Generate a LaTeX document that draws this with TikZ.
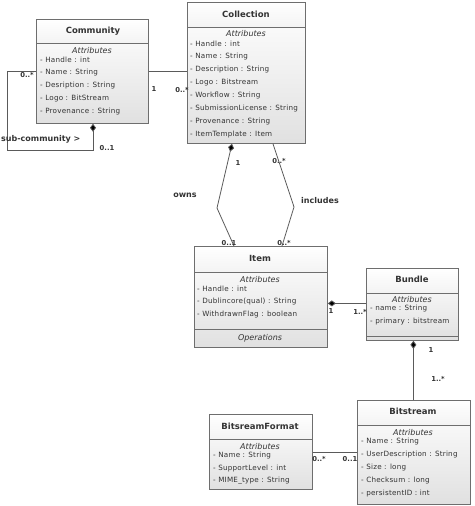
\documentclass[tikz,border=0pt]{standalone}
\usepackage{fontspec}
\setmainfont{DejaVu Sans}
\newfontfamily\attrfont[LetterSpace=3]{DejaVu Sans}
\usetikzlibrary{arrows.meta,calc}
\definecolor{txt}{HTML}{333333}
\definecolor{boxline}{HTML}{6E6E6E}
\definecolor{lnk}{HTML}{5A5A5A}
\begin{document}
\begin{tikzpicture}[x=1pt,y=-1pt,
  cls/.style={draw=boxline, line width=0.8pt, top color=white, bottom color=gray!24, inner sep=0pt, anchor=north west},
  hdr/.style={draw=boxline, line width=0.8pt, top color=white, bottom color=gray!9},
  sep/.style={draw=boxline, line width=0.8pt},
  ttl/.style={font=\fontsize{8.5}{9}\selectfont\bfseries, text=txt, inner sep=0pt},
  atth/.style={font=\fontsize{8}{9}\selectfont\itshape, text=txt, inner sep=0pt},
  attr/.style={font=\attrfont\fontsize{7.2}{8}\selectfont, text=txt, anchor=west, inner sep=0pt},
  mult/.style={font=\fontsize{6.8}{8}\selectfont\bfseries, text=txt, inner sep=0pt},
  rlab/.style={font=\fontsize{8}{9}\selectfont\bfseries, text=txt, inner sep=0pt},
  assoc/.style={draw=lnk, line width=0.8pt},
  dia/.style={{Diamond[length=8pt,width=6pt,fill=black]}-},
]
\useasboundingbox (0,0) rectangle (474,506);

% ---------- Community ----------
\node[cls, minimum width=112pt, minimum height=104pt] (comm) at (36,19) {};
\filldraw[hdr] (comm.north west) rectangle ($(comm.north east)+(0,24)$);
\node[ttl] (commT) at (93,31) {Community};
\node[atth] (commA) at (92,51) {Attributes};
\node[attr] (comm1) at (40,60) {- Handle : int};
\node[attr] (comm2) at (40,73) {- Name : String};
\node[attr] (comm3) at (40,86) {- Desription : String};
\node[attr] (comm4) at (40,99) {- Logo : BitStream};
\node[attr] (comm5) at (40,112) {- Provenance : String};

% ---------- Collection ----------
\node[cls, minimum width=118pt, minimum height=141pt] (coll) at (187,2) {};
\filldraw[hdr] (coll.north west) rectangle ($(coll.north east)+(0,25)$);
\node[ttl] (collT) at (246,14) {Collection};
\node[atth] (collA) at (246,34) {Attributes};
\node[attr] (coll1) at (190,44) {- Handle : int};
\node[attr] (coll2) at (190,57) {- Name : String};
\node[attr] (coll3) at (190,70) {- Description : String};
\node[attr] (coll4) at (190,83) {- Logo : Bitstream};
\node[attr] (coll5) at (190,96) {- Workflow : String};
\node[attr] (coll6) at (190,109) {- SubmissionLicense : String};
\node[attr] (coll7) at (190,122) {- Provenance : String};
\node[attr] (coll8) at (190,135) {- ItemTemplate : Item};

% ---------- Item ----------
\node[cls, minimum width=133pt, minimum height=101pt] (item) at (194,246) {};
\filldraw[hdr] (item.north west) rectangle ($(item.north east)+(0,26)$);
\draw[sep] ($(item.north west)+(0,83)$) -- ($(item.north east)+(0,83)$);
\node[ttl] (itemT) at (260,258) {Item};
\node[atth] (itemA) at (260,280) {Attributes};
\node[attr] (item1) at (197,289) {- Handle : int};
\node[attr] (item2) at (197,302) {- Dublincore(qual) : String};
\node[attr] (item3) at (197,315) {- WithdrawnFlag : boolean};
\node[atth] (itemO) at (260,338) {Operations};

% ---------- Bundle ----------
\node[cls, minimum width=92pt, minimum height=72pt] (bund) at (366,268) {};
\filldraw[hdr] (bund.north west) rectangle ($(bund.north east)+(0,25)$);
\draw[sep] ($(bund.south west)+(0,-4)$) -- ($(bund.south east)+(0,-4)$);
\node[ttl] (bundT) at (412,279) {Bundle};
\node[atth] (bundA) at (412,300) {Attributes};
\node[attr] (bund1) at (370,309) {- name : String};
\node[attr] (bund2) at (370,322) {- primary : bitstream};

% ---------- Bitstream ----------
\node[cls, minimum width=113pt, minimum height=104pt] (bits) at (357,400) {};
\filldraw[hdr] (bits.north west) rectangle ($(bits.north east)+(0,25)$);
\node[ttl] (bitsT) at (413,411) {Bitstream};
\node[atth] (bitsA) at (413,433) {Attributes};
\node[attr] (bits1) at (361,442) {- Name : String};
\node[attr] (bits2) at (361,455) {- UserDescription : String};
\node[attr] (bits3) at (361,468) {- Size : long};
\node[attr] (bits4) at (361,481) {- Checksum : long};
\node[attr] (bits5) at (361,494) {- persistentID : int};

% ---------- BitsreamFormat ----------
\node[cls, minimum width=103pt, minimum height=75pt] (bfmt) at (209,414) {};
\filldraw[hdr] (bfmt.north west) rectangle ($(bfmt.north east)+(0,25)$);
\node[ttl] (bfmtT) at (260,426) {BitsreamFormat};
\node[atth] (bfmtA) at (260,447) {Attributes};
\node[attr] (bfmt1) at (213,456) {- Name : String};
\node[attr] (bfmt2) at (213,469) {- SupportLevel : int};
\node[attr] (bfmt3) at (213,481) {- MIME\_type : String};

% ---------- Connectors ----------
% Community -- Collection
\draw[assoc] (comm.east) -- (comm.east -| coll.west);
\node[mult] (m1) at (154,89) {1};
\node[mult] (m2) at (182,90) {0..*};

% sub-community self association
\coordinate (subL) at (7,150);
\draw[assoc, {Diamond[length=8pt,width=6pt,fill=black]}-] ([xshift=57pt]comm.south west) |- (subL) |- (comm.west);
\node[mult] (m3) at (27,75) {0..*};
\node[rlab, anchor=west] (subc) at (1,139) {sub-community >};
\node[mult] (m4) at (107,148) {0..1};

% owns
\coordinate (ownsB) at (217,208);
\draw[assoc, dia] ([xshift=45pt]coll.south west) -- (ownsB) -- ([xshift=40pt]item.north west);
\node[mult] (m5) at (238,163) {1};
\node[rlab] (owns) at (185,195) {owns};
\node[mult] (m6) at (229,243) {0..1};

% includes
\coordinate (inclB) at (294,207);
\draw[assoc] ([xshift=86pt]coll.south west) -- (inclB) -- ([xshift=88pt]item.north west);
\node[mult] (m7) at (279,161) {0..*};
\node[rlab] (incl) at (320,201) {includes};
\node[mult] (m8) at (284,243) {0..*};

% Item -- Bundle
\draw[assoc, dia] ([yshift=-6.5pt]item.east) -- ([yshift=-6.5pt]item.east -| bund.west);
\node[mult] (m9) at (331,311) {1};
\node[mult] (m10) at (360,312) {1..*};

% Bundle -- Bitstream
\draw[assoc, dia] ([xshift=1pt]bund.south) -- ([xshift=1pt]bund.south |- bits.north);
\node[mult] (m11) at (431,350) {1};
\node[mult] (m12) at (438,379) {1..*};

% BitsreamFormat -- Bitstream
\draw[assoc] (bfmt.east) -- (bfmt.east -| bits.west);
\node[mult] (m13) at (319,459) {0..*};
\node[mult] (m14) at (350,459) {0..1};
\end{tikzpicture}
\end{document}
